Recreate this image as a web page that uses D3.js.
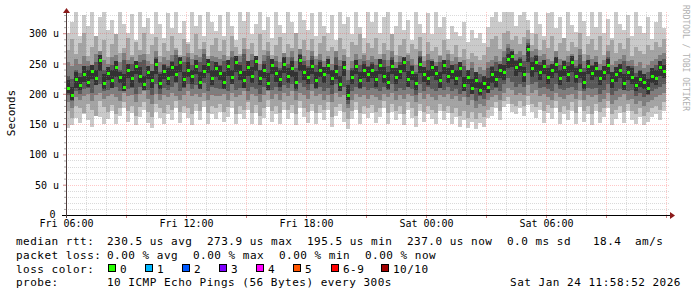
<!DOCTYPE html>
<html><head><meta charset="utf-8">
<script src="https://cdn.jsdelivr.net/npm/d3@7/dist/d3.min.js"></script>
<style>
html,body{margin:0;padding:0;background:#fff;}
svg{display:block;}
text{font-family:"DejaVu Sans Mono",monospace;fill:#000;}
</style></head><body>
<svg id="c" width="697" height="297"></svg>
<script>
// ---------- data ----------
const startTime = "2026-01-23T06:00:00";
const endTime = "2026-01-24T12:00:00";
const stepMinutes = 12;
const yTicks = [0, 50, 100, 150, 200, 250, 300];
const yTickLabels = ["0", "50 u", "100 u", "150 u", "200 u", "250 u", "300 u"];
const xTickTimes = ["2026-01-23T06:00:00", "2026-01-23T12:00:00", "2026-01-23T18:00:00", "2026-01-24T00:00:00", "2026-01-24T06:00:00"];
const xTickLabels = ["Fri 06:00", "Fri 12:00", "Fri 18:00", "Sat 00:00", "Sat 06:00"];

// median rtt (microseconds)
const median = [210,198,224,214,232,220,238,226,256,218,234,222,244,228,212,240,226,246,230,216,236,222,250,218,238,226,244,232,252,224,240,230,246,220,238,250,226,242,
234,220,246,228,252,236,222,244,230,254,226,240,218,248,234,224,250,230,242,220,256,236,228,246,222,240,232,248,226,238,216,244,198,228,246,222,240,232,
240,224,248,230,220,246,228,238,252,224,236,218,250,232,226,244,234,222,248,230,238,226,242,214,228,210,222,206,218,212,232,224,240,236,258,262,244,250,
232,274,242,252,236,246,228,240,250,226,244,232,252,230,240,220,246,234,242,226,236,248,222,232,240,218,236,228,214,224,220,210,230,226,244,238];

// sorted ping values (smoke), p1 = fastest ... p10 = slowest
const p1 = [144,148,160,152,166,156,146,170,162,150,158,172,150,164,176,154,168,148,162,174,152,144,170,160,150,166,156,176,152,168,160,148,172,156,178,150,166,158,
170,154,162,176,150,166,158,174,150,168,148,160,178,154,166,150,174,158,168,148,176,162,152,172,150,168,156,174,146,164,172,154,142,158,174,150,166,160,
168,152,162,176,150,170,156,166,148,174,160,146,172,154,166,158,150,172,156,168,150,162,146,156,144,154,142,152,146,160,164,176,156,178,184,170,166,176,
164,182,170,160,174,152,168,158,176,150,166,156,172,150,178,154,166,148,172,152,162,176,148,158,168,152,172,156,150,162,148,154,162,166,156,172];
const p2 = [172,160,180,176,168,184,174,164,188,178,170,182,166,176,186,172,180,164,178,186,170,162,184,176,168,182,174,188,170,180,176,166,184,172,188,168,180,176,
184,170,178,188,166,180,174,186,168,182,164,176,190,172,180,168,186,174,182,166,188,176,170,184,168,182,174,186,162,178,184,170,158,172,186,168,180,176,
182,170,176,188,168,184,172,180,166,186,176,164,184,170,180,174,168,184,172,180,168,176,164,172,160,170,158,168,162,174,178,186,172,188,194,184,180,188,
180,196,184,178,186,172,182,176,188,170,180,174,186,168,190,172,180,166,184,170,176,188,166,174,180,170,184,172,166,176,164,170,176,180,174,186];
const p3 = [186,176,194,190,196,200,188,198,202,192,196,200,194,188,202,196,198,186,200,204,192,184,200,190,198,194,202,196,190,198,204,196,200,194,202,190,198,196,
196,200,190,202,194,198,204,190,200,196,186,198,204,192,200,190,202,196,204,190,202,198,192,204,196,200,190,198,186,202,194,198,176,190,200,194,198,192,
198,194,190,200,194,202,190,198,192,200,196,186,202,192,200,194,190,198,194,200,192,196,188,194,182,190,176,184,180,190,194,198,190,202,210,206,198,202,
198,214,202,206,196,200,194,190,202,194,192,198,200,192,204,190,198,194,198,186,192,202,184,190,194,200,190,192,184,188,180,186,190,194,198,202];
const p4 = [198,188,204,200,208,210,202,214,216,204,206,210,212,204,214,208,210,200,212,214,206,198,216,200,210,206,212,218,204,210,216,208,214,210,218,204,212,210,
208,212,204,216,206,210,218,204,212,208,200,212,216,206,212,204,214,210,216,204,218,212,206,216,208,212,204,210,200,216,206,212,184,204,212,208,212,206,
210,208,204,212,206,216,204,210,206,212,208,198,216,204,212,208,204,210,206,212,204,208,200,206,194,204,188,196,192,204,206,210,204,216,226,220,212,216,
212,234,216,220,210,212,208,204,216,208,206,210,212,206,218,204,210,208,210,200,206,216,198,204,208,212,204,206,196,202,194,198,204,208,212,216];
const p5 = [202,190,210,206,220,212,224,214,238,208,222,210,228,218,204,226,212,232,218,206,224,210,232,208,224,214,230,220,236,212,228,216,232,208,226,234,214,228,
222,208,230,216,236,222,210,230,218,238,214,226,206,232,220,212,234,218,228,208,238,222,216,232,210,228,218,232,214,224,204,230,190,216,232,210,226,220,
226,212,232,218,208,232,216,224,236,212,222,206,234,220,214,230,222,210,232,218,224,214,228,204,216,200,210,198,206,202,218,212,226,222,242,244,230,236,
220,252,228,236,222,232,216,226,234,214,230,220,236,218,226,208,232,222,228,214,222,232,210,220,226,206,222,216,204,212,208,200,218,214,230,226];
const p6 = [222,212,236,228,246,240,248,240,264,232,244,240,254,236,232,250,238,254,244,230,246,238,258,232,248,242,252,246,260,236,252,240,256,236,248,258,240,252,
246,236,256,240,262,248,238,254,244,262,240,250,234,258,244,240,260,242,254,236,264,248,242,256,236,252,244,258,240,248,230,254,214,240,256,236,250,244,
250,238,258,244,236,256,242,248,260,238,246,232,260,244,240,254,246,236,256,242,248,240,252,228,240,224,236,220,230,226,244,238,250,248,266,270,254,258,
244,280,252,262,248,256,242,250,260,240,254,246,262,242,250,236,256,246,252,240,246,258,236,244,250,232,246,242,228,238,232,224,242,240,254,248];
const p7 = [230,224,240,234,244,246,238,252,262,240,244,248,254,240,256,246,250,238,252,256,244,236,260,236,250,246,254,264,242,252,260,248,256,252,266,244,254,252,
248,254,242,260,246,252,266,244,256,248,238,254,262,246,254,242,258,250,260,242,266,254,246,262,248,256,244,252,238,260,246,254,222,242,256,248,254,246,
252,248,242,256,246,260,242,252,244,254,248,236,262,244,256,248,242,252,246,256,244,250,238,246,230,242,224,232,226,242,246,252,242,260,276,266,256,260,
254,284,260,264,252,256,248,242,260,248,244,252,256,246,264,242,254,248,252,238,246,260,236,242,248,254,242,246,234,240,230,236,242,248,254,258];
const p8 = [252,246,258,250,262,254,248,266,270,256,250,260,264,252,268,256,260,248,264,266,254,250,270,252,260,256,264,272,254,262,268,258,264,260,274,254,262,260,
258,264,254,270,256,262,274,254,266,258,250,264,270,256,262,252,268,260,270,254,274,262,256,270,258,266,254,262,250,270,256,264,240,254,266,258,264,256,
262,258,252,266,256,270,252,262,254,264,258,248,270,254,266,258,252,262,256,266,254,260,248,256,240,252,236,244,240,252,256,262,254,270,282,274,266,270,
264,290,270,274,262,266,258,254,270,258,256,262,266,256,274,254,264,258,262,250,256,270,248,254,258,264,254,256,246,252,242,248,254,258,264,268];
const p9 = [272,290,266,284,300,262,278,296,270,288,260,282,298,268,276,292,264,286,272,300,266,280,294,262,284,270,296,276,264,290,282,268,298,274,286,262,280,292,
270,288,262,296,278,266,292,274,284,260,298,272,286,264,280,294,268,282,276,300,264,288,272,290,262,284,296,270,278,266,292,274,260,286,280,298,268,284,
276,292,266,284,272,298,264,280,290,268,282,274,294,262,286,270,278,264,288,272,266,280,260,274,258,268,262,256,264,278,290,296,274,300,304,288,296,282,
294,306,280,298,272,288,276,296,268,284,292,270,286,278,300,266,282,290,272,296,264,280,288,268,284,274,292,262,278,270,266,280,272,286,278,290];
const p10 = [300,318,335,296,330,312,340,290,326,338,305,322,296,340,315,300,332,288,340,310,325,298,340,316,292,334,308,340,300,320,286,338,312,330,296,340,318,304,
330,296,340,312,288,335,320,340,298,316,340,306,326,292,340,314,300,338,318,290,340,322,306,334,296,340,312,300,330,288,340,316,326,298,340,310,292,336,
318,340,300,326,340,294,312,340,306,322,288,340,316,300,334,298,340,310,326,290,312,302,296,318,286,306,292,300,284,310,326,340,318,340,336,340,312,330,
340,322,300,340,316,296,334,340,308,326,290,340,314,302,340,320,296,336,310,340,300,324,292,340,316,306,330,296,340,312,300,326,290,318,340,308];

const rttLabel = "median rtt:";
const rttStats = ["230.5 us avg", "273.9 us max", "195.5 us min", "237.0 us now", "0.0 ms sd", "18.4", "am/s"];
const lossLabel = "packet loss:";
const lossStats = ["0.00 % avg", "0.00 % max", "0.00 % min", "0.00 % now"];
const lossColorLabel = "loss color:";
const lossLabels = ["0", "1", "2", "3", "4", "5", "6-9", "10/10"];
const lossColors = ["#26ff00", "#00b8ff", "#0059ff", "#7e00ff", "#ff00ff", "#ff5500", "#ff0000", "#a10000"];
const probeLabel = "probe:";
const probeText = "10 ICMP Echo Pings (56 Bytes) every 300s";
const stampText = "Sat Jan 24 11:58:52 2026";
const smokeColors = ["#cacaca", "#a4a4a4", "#7e7e7e", "#585858", "#323232"];

// ---------- layout ----------
const L = 66, R = 666, GR = 669, B = 215, T = 12;
const svg = d3.select("#c");
svg.append("rect").attr("width",697).attr("height",297).attr("fill","#fff");
const parse = d3.timeParse("%Y-%m-%dT%H:%M:%S");
const t0 = parse(startTime), t1 = parse(endTime);
const x = d3.scaleTime().domain([t0, t1]).range([L, R]);
const y = d3.scaleLinear().domain([0, 335]).range([B, T]);
const times = median.map((_, i) => d3.timeMinute.offset(t0, i * stepMinutes));

// smoke
svg.append("clipPath").attr("id","pc").append("rect")
  .attr("x", L).attr("y", T).attr("width", R - L).attr("height", B - T);
const gd = svg.append("g").attr("clip-path","url(#pc)").attr("shape-rendering","crispEdges");
const bands = [[p1,p10],[p2,p9],[p3,p8],[p4,p7],[p5,p6]];
bands.forEach(([lo, hi], b) => {
  gd.append("g").attr("fill", smokeColors[b]).selectAll("rect").data(times).join("rect")
    .attr("x", t => x(t))
    .attr("width", t => x(d3.timeMinute.offset(t, stepMinutes)) - x(t))
    .attr("y", (t, i) => y(hi[i]))
    .attr("height", (t, i) => y(lo[i]) - y(hi[i]));
});

// grid (drawn over the smoke, as rrdtool does)
function styleGrid(g, color) {
  g.select(".domain").remove();
  g.selectAll("line").attr("stroke", color).attr("stroke-dasharray", "1,1").attr("shape-rendering","crispEdges");
  g.selectAll("text").remove();
}
const gridMinor = "rgba(140,140,140,0.32)";
const gridMajor = "rgba(255,40,40,0.26)";
const minorY = d3.range(10, 331, 10).filter(v => v % 50 !== 0);
const majorY = d3.range(50, 331, 50);
svg.append("g").attr("transform", `translate(${L},0)`)
  .call(d3.axisLeft(y).tickValues(minorY).tickSize(-(GR - L)).tickFormat(""))
  .call(g => styleGrid(g, gridMinor));
const hours = x.ticks(d3.timeHour.every(1)).filter(d => +d > +t0);
const minorX = hours.filter(d => d.getHours() % 3 !== 0);
const majorX = hours.filter(d => d.getHours() % 3 === 0);
svg.append("g").attr("transform", `translate(0,${B})`)
  .call(d3.axisBottom(x).tickValues(minorX).tickSize(-(B - T)).tickFormat(""))
  .call(g => styleGrid(g, gridMinor));
svg.append("g").attr("transform", `translate(${L},0)`)
  .call(d3.axisLeft(y).tickValues(majorY).tickSize(-(GR - L)).tickFormat(""))
  .call(g => styleGrid(g, gridMajor));
svg.append("g").attr("transform", `translate(0,${B})`)
  .call(d3.axisBottom(x).tickValues(majorX).tickSize(-(B - T)).tickFormat(""))
  .call(g => styleGrid(g, gridMajor));

// median marks (loss colour 0)
svg.append("g").attr("fill", lossColors[0]).attr("clip-path","url(#pc)").attr("shape-rendering","crispEdges")
  .selectAll("rect").data(times).join("rect")
  .attr("x", t => Math.round(x(t)) + 1).attr("width", 3)
  .attr("y", (t, i) => Math.round(y(median[i])) - 1).attr("height", 3);

// small ticks
svg.append("g").attr("transform", `translate(${L},0)`)
  .call(d3.axisLeft(y).tickValues(minorY).tickSize(2).tickFormat(""))
  .call(g => { g.select(".domain").remove(); g.selectAll("line").attr("stroke","#aaa"); });
svg.append("g").attr("transform", `translate(${L},0)`)
  .call(d3.axisLeft(y).tickValues(majorY).tickSize(3).tickFormat(""))
  .call(g => { g.select(".domain").remove(); g.selectAll("line").attr("stroke","#d08080"); });
svg.append("g").attr("transform", `translate(0,${B})`)
  .call(d3.axisBottom(x).tickValues(majorX).tickSize(3).tickFormat(""))
  .call(g => { g.select(".domain").remove(); g.selectAll("line").attr("stroke","#d08080"); });

// axes lines + arrows
svg.append("line").attr("x1", L - 4).attr("x2", GR + 2).attr("y1", B + 0.5).attr("y2", B + 0.5)
  .attr("stroke", "#000").attr("stroke-width", 1.2);
svg.append("line").attr("x1", L + 0.5).attr("x2", L + 0.5).attr("y1", B + 3).attr("y2", T - 2)
  .attr("stroke", "#4d3b3b").attr("stroke-width", 1);
svg.append("path").attr("d", `M${L-3},${T+1}L${L+0.5},${T-4}L${L+4},${T+1}Z`).attr("fill", "#8b1a1a");
svg.append("path").attr("d", `M${GR+1},${B-3}L${GR+6},${B+0.5}L${GR+1},${B+4}Z`).attr("fill", "#8b1a1a");

// axis labels
svg.append("g").attr("transform", `translate(59,0)`)
  .call(d3.axisLeft(y).tickValues(yTicks).tickSize(0).tickPadding(0).tickFormat((d, i) => yTickLabels[i]))
  .call(g => {
    g.select(".domain").remove();
    g.attr("font-family", null).attr("font-size", null);
    g.selectAll("text").attr("font-size", "10px").attr("fill", "#000").attr("x", d => d === 0 ? -3.5 : 0)
      .attr("dy", null).attr("transform", d => d === 0 ? "translate(0,2.5)" : "translate(0,3.5)");
  });
svg.append("g").attr("transform", `translate(0,${B})`)
  .call(d3.axisBottom(x).tickValues(xTickTimes.map(parse)).tickSize(0).tickFormat((d, i) => xTickLabels[i]))
  .call(g => {
    g.select(".domain").remove();
    g.attr("font-family", null).attr("font-size", null);
    g.selectAll("text").attr("font-size", "10px").attr("fill", "#000").attr("y", 12).attr("dy", null);
  });
svg.append("text").attr("transform", "translate(15,113) rotate(-90)").attr("text-anchor", "middle")
  .attr("font-size", "11px").text("Seconds");
svg.append("text").attr("transform", "translate(683,5) rotate(90)").attr("font-size", "8px")
  .style("fill", "#b0b0b0").text("RRDTOOL / TOBI OETIKER");

// legend
const lg = svg.append("g").attr("font-size", "11px").attr("letter-spacing", "0.5px");
const rttX = [107, 207, 307, 407, 507, 593, 635];
lg.append("text").attr("x", 16).attr("y", 245).text(rttLabel);
rttStats.forEach((s, i) => lg.append("text").attr("x", rttX[i]).attr("y", 245).text(s));
const lossX = [107, 193, 279, 365];
lg.append("text").attr("x", 16).attr("y", 259).text(lossLabel);
lossStats.forEach((s, i) => lg.append("text").attr("x", lossX[i]).attr("y", 259).text(s));
lg.append("text").attr("x", 16).attr("y", 272.5).text(lossColorLabel);
const boxX = [108, 145, 182, 219, 256, 293, 331, 381];
lossLabels.forEach((s, i) => {
  lg.append("rect").attr("x", boxX[i] + 0.5).attr("y", 264.5).attr("width", 7).attr("height", 7)
    .attr("fill", lossColors[i]).attr("stroke", "#000").attr("stroke-width", 1);
  lg.append("text").attr("x", boxX[i] + 12).attr("y", 272.5).text(s);
});
lg.append("text").attr("x", 16).attr("y", 286).text(probeLabel);
lg.append("text").attr("x", 107).attr("y", 286).text(probeText);
lg.append("text").attr("x", 681).attr("y", 286).attr("text-anchor", "end").text(stampText);
</script>
</body></html>
